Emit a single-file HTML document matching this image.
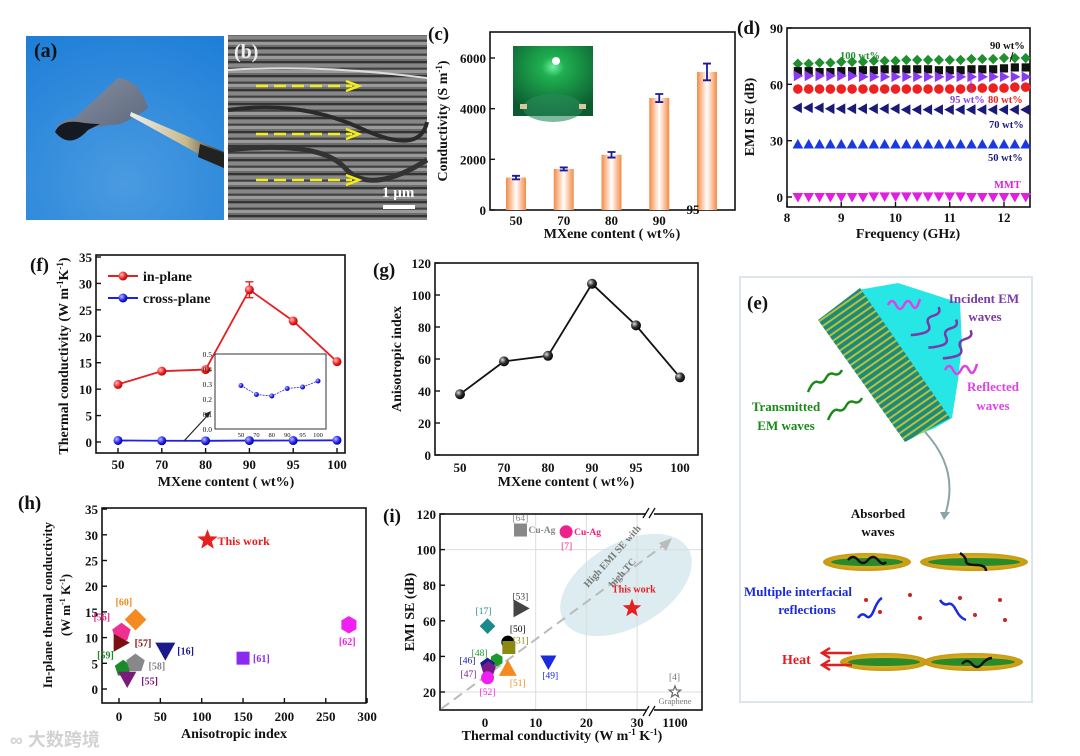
<!DOCTYPE html>
<html><head><meta charset="utf-8"><style>
html,body{margin:0;padding:0;background:#fff;}
svg{display:block;font-family:"Liberation Serif","Noto Serif CJK SC",serif;font-weight:bold;}
</style></head><body>
<svg id="fig" width="1080" height="756" viewBox="0 0 1080 756" xmlns="http://www.w3.org/2000/svg">
<defs>
<linearGradient id="barg" x1="0" x2="1" y1="0" y2="0"><stop offset="0" stop-color="#f58a45"/><stop offset="0.5" stop-color="#fff"/><stop offset="1" stop-color="#f58a45"/></linearGradient>
<radialGradient id="ballB" cx="0.35" cy="0.35" r="0.7"><stop offset="0" stop-color="#ddd"/><stop offset="0.5" stop-color="#333"/><stop offset="1" stop-color="#000"/></radialGradient>
<radialGradient id="ballR" cx="0.35" cy="0.35" r="0.7"><stop offset="0" stop-color="#fbb"/><stop offset="0.6" stop-color="#e22"/><stop offset="1" stop-color="#a00"/></radialGradient>
<radialGradient id="ballBl" cx="0.35" cy="0.35" r="0.7"><stop offset="0" stop-color="#bbf"/><stop offset="0.6" stop-color="#22e"/><stop offset="1" stop-color="#008"/></radialGradient>
<radialGradient id="photoA" cx="0.5" cy="0.8" r="0.9"><stop offset="0" stop-color="#4a9be0"/><stop offset="1" stop-color="#1f7fd8"/></radialGradient>
<radialGradient id="green" cx="0.5" cy="0.3" r="0.7"><stop offset="0" stop-color="#6ff0a0"/><stop offset="0.2" stop-color="#1fb050"/><stop offset="1" stop-color="#0c5a30"/></radialGradient>
<linearGradient id="tw" x1="0" y1="0" x2="1" y2="0"><stop offset="0" stop-color="#eee"/><stop offset="0.6" stop-color="#c9b98a"/><stop offset="1" stop-color="#333"/></linearGradient>
<linearGradient id="sheet" x1="0" y1="0" x2="1" y2="1"><stop offset="0" stop-color="#8a93a6"/><stop offset="1" stop-color="#5a6478"/></linearGradient>
<pattern id="sem" width="200" height="14" patternUnits="userSpaceOnUse"><rect width="200" height="14" fill="#7a7a7a"/><rect y="0" width="200" height="3" fill="#b0b0b0"/><rect y="5" width="200" height="2" fill="#3c3c3c"/><rect y="8" width="200" height="3" fill="#9a9a9a"/><rect y="12" width="200" height="1.5" fill="#4a4a4a"/></pattern>
<pattern id="stack" width="6" height="6" patternUnits="userSpaceOnUse" patternTransform="rotate(55)"><rect width="6" height="6" fill="#1e8a7a"/><rect width="2" height="6" fill="#b7c23a"/></pattern>
<radialGradient id="gold" cx="0.5" cy="0.5" r="0.5"><stop offset="0" stop-color="#e8c440"/><stop offset="1" stop-color="#c89a10"/></radialGradient>
</defs>

<!-- (a) photo -->
<g>
<rect x="26" y="36" width="198" height="184" fill="url(#photoA)"/>
<path d="M55 132 Q58 120 75 118 L118 78 Q140 80 148 108 Q135 118 120 124 Q100 126 90 128 Q70 150 55 132 Z" fill="url(#sheet)"/>
<path d="M55 132 Q60 120 78 122 Q90 124 100 124 Q92 128 88 130 Q70 150 55 132 Z" fill="#151a22"/>
<polygon points="131,112 224,152 224,168 130,116" fill="url(#tw)"/>
<polygon points="200,144 224,153 224,168 198,157" fill="#222"/>
<text x="34" y="57" font-size="20" fill="#111">(a)</text>
</g>

<!-- (b) SEM -->
<g>
<rect x="228" y="35" width="199" height="185" fill="url(#sem)"/>
<rect x="228" y="35" width="199" height="185" fill="#000" opacity="0.12"/>
<path d="M228 110 Q300 100 360 128 T427 122" stroke="#2a2a2a" stroke-width="4" fill="none"/>
<path d="M228 150 Q320 140 345 168 T427 160" stroke="#333" stroke-width="5" fill="none"/>
<path d="M228 70 Q320 64 427 78" stroke="#ddd" stroke-width="2" fill="none"/>
<g stroke="#f4ee14" stroke-width="2.5" stroke-dasharray="12 6" fill="none">
<line x1="256" y1="86" x2="352" y2="86"/><line x1="256" y1="134" x2="352" y2="134"/><line x1="256" y1="180" x2="352" y2="180"/></g>
<g stroke="#f4ee14" stroke-width="2.5" fill="none"><polyline points="346,81 359,86 346,91"/><polyline points="346,129 359,134 346,139"/><polyline points="346,175 359,180 346,185"/></g>
<text x="234" y="58" font-size="20" fill="#eee">(b)</text>
<text x="382" y="197" font-size="15" fill="#fff">1 µm</text>
<rect x="383" y="205" width="32" height="4" fill="#fff"/>
</g>

<!-- (c) -->
<g id="pc">
<text x="428" y="40" font-size="19" fill="#111">(c)</text>
<g>
<rect x="513" y="46" width="80" height="70" fill="url(#green)"/>
<ellipse cx="553" cy="108" rx="30" ry="14" fill="#2a8a5a" opacity="0.6"/>
<rect x="520" y="104" width="7" height="5" fill="#d9c7a0"/><rect x="579" y="104" width="7" height="5" fill="#d9c7a0"/>
<circle cx="556" cy="61" r="4" fill="#fff"/>
</g>
<text transform="translate(447,121) rotate(-90)" text-anchor="middle" font-size="14" fill="#111">Conductivity (S m<tspan font-size="9" dy="-5">-1</tspan><tspan dy="5">)</tspan></text>
<text x="612" y="238" text-anchor="middle" font-size="14" fill="#111">MXene content ( wt%)</text>
</g>

<!-- (d) -->
<g id="pd">
<text x="737" y="34" font-size="19" fill="#111">(d)</text>
<text transform="translate(754,117) rotate(-90)" text-anchor="middle" font-size="14" fill="#111">EMI SE (dB)</text>
<text x="908" y="238" text-anchor="middle" font-size="14" fill="#111">Frequency (GHz)</text>
</g>

<!-- (f) -->
<g id="pf">
<text x="30" y="271" font-size="19" fill="#111">(f)</text>
<text transform="translate(68,356) rotate(-90)" text-anchor="middle" font-size="14" fill="#111">Thermal conductivity (W m<tspan font-size="9" dy="-5">-1</tspan><tspan dy="5">K</tspan><tspan font-size="9" dy="-5">-1</tspan><tspan dy="5">)</tspan></text>
<text x="226" y="486" text-anchor="middle" font-size="14" fill="#111">MXene content ( wt%)</text>
</g>

<!-- (g) -->
<g id="pg">
<text x="373" y="276" font-size="19" fill="#111">(g)</text>
<text transform="translate(401,359) rotate(-90)" text-anchor="middle" font-size="14" fill="#111">Anisotropic index</text>
<text x="566" y="486" text-anchor="middle" font-size="14" fill="#111">MXene content ( wt%)</text>
</g>

<!-- (h) -->
<g id="ph">
<text x="18" y="509" font-size="19" fill="#111">(h)</text>
<text transform="translate(52,605) rotate(-90)" text-anchor="middle" font-size="13" fill="#111">In-plane thermal conductivity</text>
<text transform="translate(70,605) rotate(-90)" text-anchor="middle" font-size="13" fill="#111">(W m<tspan font-size="8" dy="-5">-1</tspan><tspan dy="5"> K</tspan><tspan font-size="8" dy="-5">-1</tspan><tspan dy="5">)</tspan></text>
<text x="234" y="738" text-anchor="middle" font-size="14" fill="#111">Anisotropic index</text>
</g>

<!-- (i) -->
<g id="pi">
<text x="383" y="522" font-size="19" fill="#111">(i)</text>
<text transform="translate(414,612) rotate(-90)" text-anchor="middle" font-size="14" fill="#111">EMI SE (dB)</text>
<text x="562" y="740" text-anchor="middle" font-size="14" fill="#111">Thermal conductivity (W m<tspan font-size="9" dy="-5">-1</tspan><tspan dy="5"> K</tspan><tspan font-size="9" dy="-5">-1</tspan><tspan dy="5">)</tspan></text>
</g>

<!-- (e) schematic -->
<g>
<rect x="740" y="277" width="292" height="425" fill="#fff" stroke="#dde6ea" stroke-width="2"/>
<text x="747" y="309" font-size="19" fill="#111">(e)</text>
<polygon points="858,290 898,283 960,303 962,345 958,380 952,418 935,428 905,440" fill="#27e6e6"/>
<polygon points="818,320 860,288 950,418 905,442" fill="url(#stack)"/>
<path d="M925 432 Q960 470 945 515" stroke="#8aa3a8" stroke-width="2" fill="none"/>
<polygon points="940,512 950,512 944,520" fill="#8aa3a8"/>
<g fill="none" stroke-width="2.5">
<path d="M888 305 q4 -8 8 0 t8 0 t8 0 t8 -6" stroke="#e040e8"/>
<path d="M945 370 q4 -8 8 0 t8 0 t8 0 t8 -6" stroke="#e040e8"/>
<path d="M931 305 q6 4 0 10 t0 10 t0 10 t-10 8" stroke="#7a3aa8" transform="rotate(30 931 320)"/>
<path d="M950 318 q6 4 0 10 t0 10 t0 10 t-10 8" stroke="#7a3aa8" transform="rotate(30 950 330)"/>
<path d="M962 328 q6 4 0 10 t0 10 t0 10 t-10 8" stroke="#7a3aa8" transform="rotate(30 962 345)"/>
<path d="M842 370 q-3 6 -8 4 t-8 4 t-8 4 t-10 10" stroke="#1a8a1a"/>
<path d="M862 398 q-3 6 -8 4 t-8 4 t-8 4 t-10 10" stroke="#1a8a1a"/>
</g>
<text x="984" y="303" text-anchor="middle" font-size="13" fill="#7a3aa8">Incident EM</text>
<text x="985" y="321" text-anchor="middle" font-size="13" fill="#7a3aa8">waves</text>
<text x="993" y="391" text-anchor="middle" font-size="13" fill="#e040e8">Reflected</text>
<text x="993" y="410" text-anchor="middle" font-size="13" fill="#e040e8">waves</text>
<text x="786" y="411" text-anchor="middle" font-size="13" fill="#1a8a1a">Transmitted</text>
<text x="786" y="430" text-anchor="middle" font-size="13" fill="#1a8a1a">EM waves</text>
<text x="878" y="518" text-anchor="middle" font-size="13" fill="#111">Absorbed</text>
<text x="878" y="536" text-anchor="middle" font-size="13" fill="#111">waves</text>
<g>
<ellipse cx="867" cy="562" rx="44" ry="9" fill="url(#gold)"/><ellipse cx="867" cy="562" rx="36" ry="4" fill="#2a8a2a"/>
<ellipse cx="974" cy="562" rx="54" ry="9" fill="url(#gold)"/><ellipse cx="974" cy="562" rx="46" ry="4" fill="#2a8a2a"/>
<ellipse cx="884" cy="662" rx="44" ry="9" fill="url(#gold)"/><ellipse cx="884" cy="662" rx="36" ry="4" fill="#2a8a2a"/>
<ellipse cx="973" cy="662" rx="50" ry="9" fill="url(#gold)"/><ellipse cx="973" cy="662" rx="42" ry="4" fill="#2a8a2a"/>
<g fill="#d02020"><circle cx="866" cy="600" r="2"/><circle cx="880" cy="612" r="2"/><circle cx="910" cy="595" r="2"/><circle cx="920" cy="618" r="2"/><circle cx="960" cy="598" r="2"/><circle cx="975" cy="615" r="2"/><circle cx="1000" cy="600" r="2"/><circle cx="1005" cy="620" r="2"/></g>
</g>
<g fill="none" stroke-width="2.5">
<path d="M848 560 q5 -6 10 0 t10 0 t10 0 t8 2" stroke="#111"/>
<path d="M960 553 q6 4 6 8 t10 4 t10 6" stroke="#111"/>
<path d="M962 664 q5 -6 10 0 t10 0 t10 -6" stroke="#111"/>
<path d="M858 618 q4 -6 8 -2 t8 -6 t8 -12" stroke="#1a2ae0"/>
<path d="M940 600 q4 6 8 4 t8 6 t10 10" stroke="#1a2ae0"/>
</g>
<text x="744" y="596" font-size="13" fill="#1a2ae0">Multiple interfacial</text>
<text x="807" y="614" text-anchor="middle" font-size="13" fill="#1a2ae0">reflections</text>
<text x="782" y="664" font-size="14" fill="#e02020">Heat</text>
<g stroke="#e02020" stroke-width="2.5" fill="none"><line x1="822" y1="653" x2="852" y2="653"/><line x1="822" y1="665" x2="852" y2="665"/><polyline points="830,648 822,653 830,658"/><polyline points="830,660 822,665 830,670"/></g>
</g>

<text x="10" y="746" font-size="18" fill="#c8c8c8" opacity="0.8" font-family="'Liberation Sans','Noto Sans CJK SC',sans-serif">∞ 大数跨境</text>
</svg>

<script>
// ---------- data ----------
const cCats = ["50","70","80","90","95"];
const cValues = [1280, 1620, 2180, 4420, 5450];
const cErrors = [70, 60, 110, 160, 330];
const cYTicks = [0, 2000, 4000, 6000];

const dFreq = [8.2,8.4,8.6,8.8,9.0,9.2,9.4,9.6,9.8,10.0,10.2,10.4,10.6,10.8,11.0,11.2,11.4,11.6,11.8,12.0,12.2,12.4];
const d100 = [71,71,71.5,71.5,72,72,72,72.5,72.5,72.5,73,73,73,73,73,73,73.5,73.5,73.5,74,74,74];
const d90 = [67,67,66.5,66.5,67,67,67.5,67.5,68,68,68,68,68,67.5,67.5,67.5,68,68,68,68.5,69,69];
const d95 = [64.5,64.5,64.5,64.5,64.5,64.5,64,64,64,64,64,64,64,64,64,64,64,64,64,64,64,64];
const d80 = [57.5,57.5,57.5,57.5,57.5,57.5,57.5,57.5,57.5,57.5,57.5,57.5,57.5,57.5,57.5,57.5,58,58,58,58,58.5,58.5];
const d70 = [47.5,47.5,47.5,47,47,47,47,47,47,47,46.5,46.5,46.5,46.5,46.5,46.5,46.5,46.5,46.5,46.5,46.5,46.5];
const d50 = [28,28,28,28,28,28,28,28,28,28,28,28,28,28,28,28,28,28,28,28,28,28];
const dMMT = [0,0,0,0,0,0,0,0.3,0.3,0.3,0.3,0.3,0.3,0.3,0.3,0.3,0,0,0,0,0,0];
const dXTicks = [8,9,10,11,12];
const dYTicks = [0,30,60,90];

const fCats = ["50","70","80","90","95","100"];
const fInPlane = [10.9, 13.4, 13.7, 28.8, 22.9, 15.2];
const fCross = [0.29, 0.23, 0.22, 0.27, 0.28, 0.32];
const fYTicks = [0,5,10,15,20,25,30,35];
const fInsetTicks = [0,0.1,0.2,0.3,0.4,0.5];

const gCats = ["50","70","80","90","95","100"];
const gValues = [38, 58.5, 62, 107, 81, 48.5];
const gYTicks = [0,20,40,60,80,100,120];

const hX = [107, 20, 3, 2, 5, 20, 10, 56, 150, 278];
const hY = [29, 13.5, 11, 9, 4, 5, 2, 7.5, 6, 12.5];
const hLabels = ["This work","[60]","[56]","[57]","[59]","[58]","[55]","[16]","[61]","[62]"];
const hXTicks = [0,50,100,150,200,250,300];
const hYTicks = [0,5,10,15,20,25,30,35];

const iX = [7, 16, 29, 7, 0.5, 4.5, 4.7, 2.3, 0.5, 0.7, 0.5, 4.5, 12.5, 1100];
const iY = [111, 110, 67, 67, 57, 48, 45, 38, 35, 33, 28, 33, 37, 20];
const iLabels = ["[64]","[7]","This work","[53]","[17]","[50]","[31]","[48]","[46]","[47]","[52]","[51]","[49]","[4]"];
const iXTicks = [0,10,20,30];
const iYTicks = [20,40,60,80,100,120];

// ---------- helpers ----------
const NS = "http://www.w3.org/2000/svg";
function mk(tag, attrs, parent){ const el=document.createElementNS(NS,tag); for(const k in attrs) el.setAttribute(k,attrs[k]); parent.appendChild(el); return el; }
function txt(s, attrs, parent){ const el=mk("text",attrs,parent); el.textContent=s; return el; }
function marker(type,x,y,r,fill,stroke,parent){
  let el;
  if(type==="circle") el=mk("circle",{cx:x,cy:y,r:r,fill:fill,stroke:stroke,"stroke-width":1},parent);
  else if(type==="square") el=mk("rect",{x:x-r,y:y-r,width:2*r,height:2*r,fill:fill,stroke:stroke},parent);
  else {
    let pts;
    if(type==="diamond") pts=[[x,y-r],[x+r,y],[x,y+r],[x-r,y]];
    else if(type==="up") pts=[[x,y-r],[x+r,y+r*0.8],[x-r,y+r*0.8]];
    else if(type==="down") pts=[[x,y+r],[x+r,y-r*0.8],[x-r,y-r*0.8]];
    else if(type==="right") pts=[[x+r,y],[x-r*0.8,y-r],[x-r*0.8,y+r]];
    else if(type==="left") pts=[[x-r,y],[x+r*0.8,y-r],[x+r*0.8,y+r]];
    else if(type==="pent"){pts=[];for(let k=0;k<5;k++){const a=-Math.PI/2+k*2*Math.PI/5;pts.push([x+r*Math.cos(a),y+r*Math.sin(a)]);}}
    else if(type==="hex"){pts=[];for(let k=0;k<6;k++){const a=-Math.PI/2+k*Math.PI/3;pts.push([x+r*Math.cos(a),y+r*Math.sin(a)]);}}
    else if(type==="star"){pts=[];for(let k=0;k<10;k++){const a=-Math.PI/2+k*Math.PI/5;const rr=k%2?r*0.42:r;pts.push([x+rr*Math.cos(a),y+rr*Math.sin(a)]);}}
    el=mk("polygon",{points:pts.map(p=>p.join(",")).join(" "),fill:fill,stroke:stroke,"stroke-width":1.2},parent);
  }
  return el;
}
function frame(x0,y0,x1,y1,parent){ return mk("rect",{x:x0,y:y0,width:x1-x0,height:y1-y0,fill:"none",stroke:"#111","stroke-width":1.6},parent); }

// ---------- (c) ----------
(function(){
  const g=document.getElementById("pc");
  const x=i=>516+i*47.75, y=v=>210-v*(152/6000);
  const f=frame(490,32,735,210,g);
  
  
  cYTicks.forEach(t=>{
    mk("line",{x1:490,x2:495,y1:y(t),y2:y(t),stroke:"#111","stroke-width":1.4},g);
    const l=txt(String(t),{x:486,y:y(t)+5,"text-anchor":"end","font-size":13,fill:"#111"},g);
    
    
  });
  cCats.forEach((c,i)=>{
    const b=mk("rect",{x:x(i)-10,y:y(cValues[i]),width:20,height:210-y(cValues[i]),fill:"url(#barg)"},g);
    
    
    const e=mk("path",{d:`M${x(i)-4} ${y(cValues[i]+cErrors[i])}h8M${x(i)} ${y(cValues[i]+cErrors[i])}V${y(cValues[i]-cErrors[i])}M${x(i)-4} ${y(cValues[i]-cErrors[i])}h8`,stroke:"#1a1a9a","stroke-width":1.8,fill:"none"},g);
    
    
    const lx = i===4 ? x(i)-14 : x(i);
    const ly = i===4 ? 214 : 225;
    const l=txt(c,{x:lx,y:ly,"text-anchor":"middle","font-size":13,fill:"#111"},g);
    
    
  });
})();

// ---------- (d) ----------
(function(){
  const g=document.getElementById("pd");
  const x=f=>787+(f-8)*54.25, y=v=>197-v*(169/90);
  const fr=frame(787,28,1030,207,g);
  
  
  dYTicks.forEach(t=>{
    mk("line",{x1:787,x2:792,y1:y(t),y2:y(t),stroke:"#111","stroke-width":1.4},g);
    const l=txt(String(t),{x:783,y:y(t)+5,"text-anchor":"end","font-size":13,fill:"#111"},g);
    
    
  });
  dXTicks.forEach(t=>{
    mk("line",{x1:x(t),x2:x(t),y1:207,y2:202,stroke:"#111","stroke-width":1.4},g);
    const l=txt(String(t),{x:x(t),y:222,"text-anchor":"middle","font-size":13,fill:"#111"},g);
    
    
  });
  const series=[[d100,"diamond","#1f8f2f","100-wt"],[d90,"square","#111","90-wt"],[d95,"right","#8a3af0","95-wt"],[d80,"circle","#ee2020","80-wt"],[d70,"left","#1a1a7a","70-wt"],[d50,"up","#1a3ae0","50-wt"],[dMMT,"down","#e020e0","mmt"]];
  series.forEach(s=>{
    const sg=mk("g",{},g);
    
    
    dFreq.forEach((f,i)=>{
      const m=marker(s[1],x(f),y(s[0][i]),s[1]==="square"?3.6:4.3,s[2],s[2],sg);
      
      
    });
  });
  const labs=[["100 wt%",840,59,"#1f8f2f"],["90 wt%",990,49,"#111"],["95 wt%",950,103,"#8a3af0"],["80 wt%",988,103,"#ee2020"],["70 wt%",989,128,"#1a1a7a"],["50 wt%",988,161,"#1a1a7a"],["MMT",994,188,"#e020e0"]];
  labs.forEach(l=>{const t=txt(l[0],{x:l[1],y:l[2],"font-size":10.5,fill:l[3]},g);
    
    });
  mk("line",{x1:1010,y1:62,x2:1013,y2:52,stroke:"#111","stroke-width":1},g);
  mk("line",{x1:971,y1:75,x2:971,y2:92,stroke:"#8a3af0","stroke-width":1},g);
})();

// ---------- (f) ----------
(function(){
  const g=document.getElementById("pf");
  const x=i=>118+i*43.8, y=v=>442-v*(185/35);
  const fr=frame(96,255,345,453,g);
  
  
  fYTicks.forEach(t=>{
    mk("line",{x1:96,x2:101,y1:y(t),y2:y(t),stroke:"#111","stroke-width":1.4},g);
    const l=txt(String(t),{x:92,y:y(t)+5,"text-anchor":"end","font-size":13,fill:"#111"},g);
    
    
  });
  fCats.forEach((c,i)=>{
    mk("line",{x1:x(i),x2:x(i),y1:453,y2:448,stroke:"#111","stroke-width":1.4},g);
    const l=txt(c,{x:x(i),y:469,"text-anchor":"middle","font-size":13,fill:"#111"},g);
    
    
  });
  const lr=mk("polyline",{points:fInPlane.map((v,i)=>x(i)+","+y(v)).join(" "),fill:"none",stroke:"#e52020","stroke-width":1.8},g);
  
  
  mk("path",{d:`M${x(3)-4} ${y(30.3)}h8M${x(3)} ${y(30.3)}V${y(27.3)}M${x(3)-4} ${y(27.3)}h8`,stroke:"#e52020","stroke-width":1.4,fill:"none"},g);
  const lb=mk("polyline",{points:fCross.map((v,i)=>x(i)+","+y(v)).join(" "),fill:"none",stroke:"#2020e5","stroke-width":1.8},g);
  
  
  fInPlane.forEach((v,i)=>{const m=mk("circle",{cx:x(i),cy:y(v),r:4.5,fill:"url(#ballR)"},g);
    
    });
  fCross.forEach((v,i)=>{const m=mk("circle",{cx:x(i),cy:y(v),r:4.5,fill:"url(#ballBl)"},g);
    
    });
  const lg=mk("g",{},g);
  
  
  mk("line",{x1:108,x2:138,y1:276,y2:276,stroke:"#e52020","stroke-width":2},lg);
  mk("circle",{cx:123,cy:276,r:4.5,fill:"url(#ballR)"},lg);
  txt("in-plane",{x:143,y:281,"font-size":14,fill:"#111"},lg);
  mk("line",{x1:108,x2:138,y1:298,y2:298,stroke:"#2020e5","stroke-width":2},lg);
  mk("circle",{cx:123,cy:298,r:4.5,fill:"url(#ballBl)"},lg);
  txt("cross-plane",{x:143,y:303,"font-size":14,fill:"#111"},lg);
  const ig=mk("g",{},g);
  
  
  const ix=i=>241+i*15.4, iy=v=>429-v*150;
  mk("rect",{x:215,y:354,width:111,height:75,fill:"#fff",stroke:"#333","stroke-width":1},ig);
  fInsetTicks.forEach(t=>{txt(t.toFixed(1),{x:212,y:iy(t)+3,"text-anchor":"end","font-size":7.5,"font-weight":"normal",fill:"#111"},ig);});
  fCats.forEach((c,i)=>{txt(c,{x:ix(i),y:437,"text-anchor":"middle","font-size":6.5,"font-weight":"normal",fill:"#111"},ig);});
  mk("polyline",{points:fCross.map((v,i)=>ix(i)+","+iy(v)).join(" "),fill:"none",stroke:"#2020e5","stroke-width":0.8,"stroke-dasharray":"2 1"},ig);
  fCross.forEach((v,i)=>{const m=mk("circle",{cx:ix(i),cy:iy(v),r:2.5,fill:"url(#ballBl)"},ig);
    
    });
  mk("line",{x1:184,y1:441,x2:208,y2:415,stroke:"#222","stroke-width":1.2},g);
  mk("polygon",{points:"211,411 204,414 208,418",fill:"#222"},g);
})();

// ---------- (g) ----------
(function(){
  const g=document.getElementById("pg");
  const x=i=>460+i*44, y=v=>455-v*(192/120);
  const fr=frame(435,263,698,455,g);
  
  
  gYTicks.forEach(t=>{
    mk("line",{x1:435,x2:440,y1:y(t),y2:y(t),stroke:"#111","stroke-width":1.4},g);
    const l=txt(String(t),{x:431,y:y(t)+5,"text-anchor":"end","font-size":13,fill:"#111"},g);
    
    
  });
  gCats.forEach((c,i)=>{
    const l=txt(c,{x:x(i),y:472,"text-anchor":"middle","font-size":13,fill:"#111"},g);
    
    
  });
  const ln=mk("polyline",{points:gValues.map((v,i)=>x(i)+","+y(v)).join(" "),fill:"none",stroke:"#111","stroke-width":1.8},g);
  
  
  gValues.forEach((v,i)=>{const m=mk("circle",{cx:x(i),cy:y(v),r:5,fill:"url(#ballB)"},g);
    
    });
})();

// ---------- (h) ----------
(function(){
  const g=document.getElementById("ph");
  const x=v=>119+v*0.827, y=v=>689-v*5.14;
  const fr=frame(102,508,366,703,g);
  
  
  hYTicks.forEach(t=>{
    mk("line",{x1:102,x2:107,y1:y(t),y2:y(t),stroke:"#111","stroke-width":1.4},g);
    const l=txt(String(t),{x:98,y:y(t)+5,"text-anchor":"end","font-size":13,fill:"#111"},g);
    
    
  });
  hXTicks.forEach(t=>{
    mk("line",{x1:x(t),x2:x(t),y1:703,y2:698,stroke:"#111","stroke-width":1.4},g);
    const l=txt(String(t),{x:x(t),y:721,"text-anchor":"middle","font-size":13,fill:"#111"},g);
    
    
  });
  const st=[["star","#e52020","#e52020",9,10,5],["diamond","#f58a20","#f58a20",10,-20,-14],["pent","#f03090","#f03090",9,-28,-12],["right","#7a1010","#7a1010",8,14,4],["pent","#1a8a2a","#1a8a2a",8,-26,-10],["pent","#888","#888",9,13,6],["down","#7a1a7a","#7a1a7a",8,14,6],["down","#1a1a8a","#1a1a8a",9,12,4],["square","#8a2af0","#8a2af0",6,10,4],["hex","#f020f0","#f020f0",8,-10,20]];
  hX.forEach((v,i)=>{
    const s=st[i];
    const m=marker(s[0],x(v),y(hY[i]),s[3],s[1],s[2],g);
    
    
    const l=txt(hLabels[i],{x:x(v)+s[4],y:y(hY[i])+s[5],"font-size":i===0?12:10,fill:s[1]},g);
    
    
  });
})();

// ---------- (i) ----------
(function(){
  const g=document.getElementById("pi");
  const x=v=>v>100?675+(v-1100)*0.5:485+v*5.07, y=v=>692-(v-20)*1.78;
  const bg=mk("ellipse",{cx:626,cy:585,rx:72,ry:42,fill:"#dcecf0",transform:"rotate(-30 626 585)"},g);
  
  
  [100,20].forEach(t=>mk("line",{x1:440,x2:702,y1:y(t),y2:y(t),stroke:"#ddd","stroke-width":1},g));
  iXTicks.slice(1).forEach(t=>mk("line",{x1:x(t),x2:x(t),y1:514,y2:710,stroke:"#ddd","stroke-width":1},g));
  const fr=frame(440,514,702,710,g);
  
  
  mk("rect",{x:646,y:506,width:8,height:12,fill:"#fff"},g);
  mk("rect",{x:646,y:704,width:8,height:12,fill:"#fff"},g);
  mk("path",{d:"M643 518 l6 -10 M649 518 l6 -10 M643 716 l6 -10 M649 716 l6 -10",stroke:"#111","stroke-width":1.3},g);
  iYTicks.forEach(t=>{
    mk("line",{x1:440,x2:445,y1:y(t),y2:y(t),stroke:"#111","stroke-width":1.4},g);
    const l=txt(String(t),{x:436,y:y(t)+5,"text-anchor":"end","font-size":13,fill:"#111"},g);
    
    
  });
  iXTicks.forEach(t=>{
    const l=txt(String(t),{x:x(t),y:727,"text-anchor":"middle","font-size":13,fill:"#111"},g);
    
    
  });
  txt("1100",{x:675,y:727,"text-anchor":"middle","font-size":13,fill:"#111"},g);
  const dl=mk("line",{x1:441,y1:709,x2:664,y2:545,stroke:"#bbb","stroke-width":2,"stroke-dasharray":"10 6"},g);
  
  
  mk("polygon",{points:"672,538 659,543 666,551",fill:"#bbb"},g);
  txt("High EMI SE with",{x:0,y:0,"font-size":10,fill:"#777",transform:"translate(588,588) rotate(-48)"},g);
  txt("high TC",{x:0,y:0,"font-size":10,fill:"#777",transform:"translate(613,588) rotate(-48)"},g);
  const st=[["square","#888",6,-8,-9,"Cu-Ag"],["circle","#f0208a",6,-5,17,"Cu-Ag"],["star","#e52020",8,-20,-16,""],["right","#444",8,-8,-9,""],["diamond","#1a8a8a",7,-12,-12,""],["circle","#000",6,2,-10,""],["square","#8a8a10",6,4,-4,""],["hex","#1a9a2a",6,-25,-4,""],["pent","#1a1a8a",7,-28,-2,""],["pent","#7a1a8a",7,-28,8,""],["circle","#f020f0",6,-8,17,""],["up","#f58a20",8,2,17,""],["down","#1a2ae0",7,-6,17,""],["star","#fff",6,-6,-12,""]];
  iX.forEach((v,i)=>{
    const s=st[i];
    const m=marker(s[0],x(v),y(iY[i]),s[2],s[1],i===13?"#666":s[1],g);
    
    
    const lab = i===2 ? "This work" : iLabels[i];
    const l=txt(lab,{x:x(v)+s[3],y:y(iY[i])+s[4],"font-size":i===2?10:9.5,fill:i===13?"#777":s[1],"font-weight":i===2?"bold":"normal"},g);
    
    
    if(s[5]){ const t=txt(s[5],{x:x(v)+8,y:y(iY[i])+3,"font-size":9.5,fill:s[1]},g);
      
       }
  });
  txt("Graphene",{x:675,y:y(20)+12,"text-anchor":"middle","font-size":8.5,fill:"#777","font-weight":"normal"},g);
})();
</script>
</body></html>
